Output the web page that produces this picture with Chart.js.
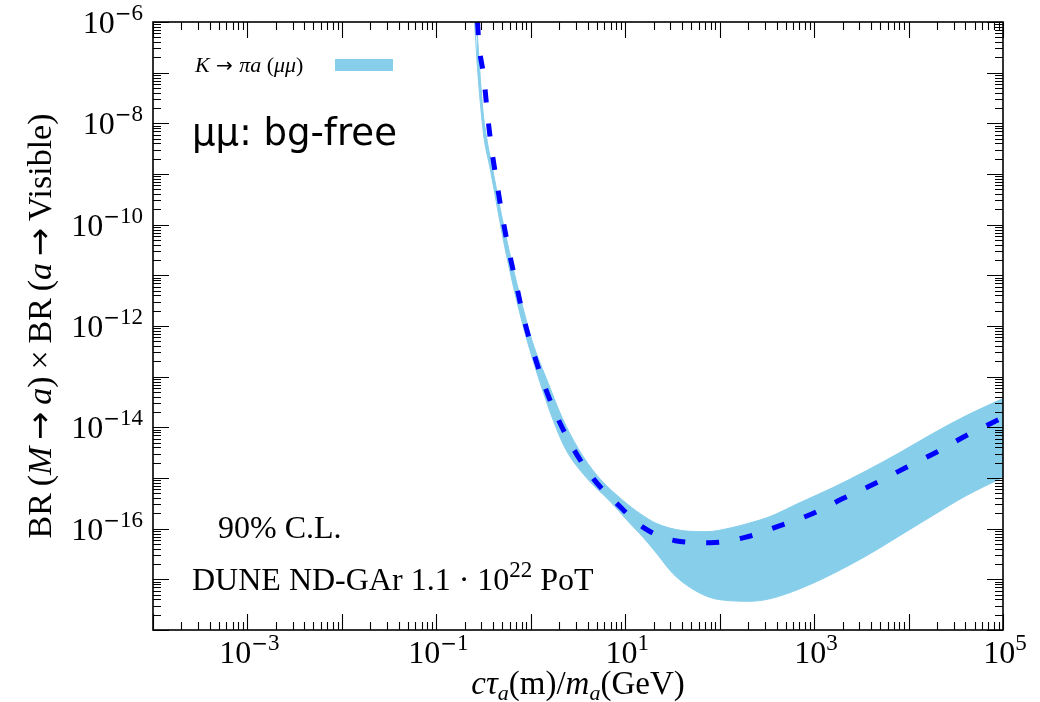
<!DOCTYPE html>
<html lang="en">
<head>
  <meta charset="UTF-8" />
  <title>DUNE ND-GAr mu-mu bg-free reach</title>
  <style>
    body {
      margin: 0;
      background: #ffffff;
    }
    #wrap {
      width: 1040px;
      height: 702px;
    }
  </style>
</head>
<body>
<div id="wrap">
  <canvas id="chart" width="1040" height="702"></canvas>
</div>

<script src="https://cdn.jsdelivr.net/npm/chart.js"></script>
<script>
// axis ranges
const xMin = 1e-4, xMax = 1e5;
const yMin = 1e-18, yMax = 1e-6;

// exponents that get a printed "10^n" label
const xLabelExps = [-3, -1, 1, 3, 5];
const yLabelExps = [-6, -8, -10, -12, -14, -16];

// K -> pi a (mu mu) band, upper edge
const bandUpperX = [0.266, 0.279, 0.297, 0.315, 0.340, 0.397, 0.471, 0.558, 0.671, 0.826, 1.03, 1.535, 2.14, 3.18, 5.06, 9.53, 14.4, 21.6, 41.0, 73.1, 129, 209, 341, 708, 1580, 3590, 8070, 1.80e4, 4.09e4, 1e5];
const bandUpperY = [1e-6, 2.8e-7, 5.19e-8, 1.45e-8, 5.33e-9, 1.19e-9, 2.24e-10, 4.92e-11, 1.10e-11, 2.33e-12, 5.19e-13, 7.34e-14, 1.58e-14, 3.81e-15, 1.11e-15, 3.57e-16, 1.98e-16, 1.26e-16, 9.12e-17, 8.73e-17, 1.03e-16, 1.30e-16, 1.73e-16, 3.27e-16, 6.46e-16, 1.40e-15, 3.18e-15, 7.54e-15, 1.71e-14, 3.71e-14];

// band, lower edge
const bandLowerX = [0.2535, 0.269, 0.2825, 0.3006, 0.319, 0.374, 0.441, 0.513, 0.608, 0.739, 0.914, 1.263, 1.68, 2.32, 3.87, 6.94, 10.8, 15.5, 21.6, 32.1, 48.6, 79.2, 129, 209, 341, 708, 1580, 3590, 8070, 1.80e4, 4.09e4, 1e5];
const bandLowerY = [1e-6, 1.77e-7, 5.19e-8, 1.45e-8, 5.33e-9, 1.19e-9, 2.24e-10, 4.92e-11, 1.10e-11, 2.33e-12, 5.19e-13, 7.34e-14, 1.58e-14, 3.81e-15, 1.02e-15, 3.42e-16, 1.37e-16, 6.73e-17, 3.21e-17, 1.29e-17, 6.92e-18, 4.39e-18, 3.78e-18, 3.69e-18, 4.14e-18, 6.52e-18, 1.29e-17, 2.92e-17, 7.28e-17, 1.81e-16, 4.49e-16, 1.03e-15];

// dashed central curve
const limitX = [0.273, 0.281, 0.318, 0.345, 0.380, 0.433, 0.498, 0.583, 0.700, 0.841, 1.065, 1.393, 1.91, 2.82, 4.59, 8.17, 15.5, 33.8, 79.2, 185, 414, 942, 2010, 4400, 9500, 1.97e4, 4.09e4, 1e5];
const limitY = [1e-6, 4.08e-7, 8.3e-8, 1.77e-8, 3.71e-9, 7.54e-10, 1.53e-10, 3.22e-11, 6.85e-12, 1.43e-12, 3.05e-13, 6.70e-14, 1.58e-14, 3.81e-15, 9.73e-16, 3.12e-16, 1.06e-16, 5.79e-17, 5.28e-17, 6.73e-17, 1.11e-16, 1.95e-16, 3.92e-16, 7.75e-16, 1.63e-15, 3.22e-15, 6.89e-15, 1.56e-14];

const SKY = '#87CEEB';
const SERIF = '"Liberation Serif", "DejaVu Serif", serif';
const SYM = '"DejaVu Sans", sans-serif'; // long arrow and minus, closer to TeX

function toPoints(xs, ys) {
  return xs.map((x, i) => ({ x: x, y: ys[i] }));
}

function fontOf(p) {
  return (p.italic ? 'italic ' : '') + p.size + 'px ' + (p.family || SERIF);
}

// a run of text pieces: {t, size, italic, dy, family}
function richWidth(ctx, pieces) {
  let w = 0;
  pieces.forEach(p => {
    ctx.font = fontOf(p);
    w += ctx.measureText(p.t).width;
  });
  return w;
}

function drawRich(ctx, pieces, x, y, align) {
  const w = richWidth(ctx, pieces);
  let cx = align === 'right' ? x - w : (align === 'center' ? x - w / 2 : x);
  ctx.textAlign = 'left';
  ctx.textBaseline = 'alphabetic';
  pieces.forEach(p => {
    ctx.font = fontOf(p);
    ctx.fillText(p.t, cx, y + (p.dy || 0));
    cx += ctx.measureText(p.t).width;
  });
}

function powerPieces(exp) {
  const out = [{ t: '10', size: 32 }];
  if (exp < 0) out.push({ t: '\u2212', size: 20, dy: -13, family: SYM });
  out.push({ t: String(Math.abs(exp)), size: 23, dy: -13 });
  return out;
}

const decorPlugin = {
  id: 'decor',
  afterDatasetsDraw(chart) {
    const ctx = chart.ctx;
    const a = chart.chartArea;
    const xs = chart.scales.x, ys = chart.scales.y;
    ctx.save();

    // inward ticks on all four sides
    ctx.strokeStyle = '#000';
    ctx.lineWidth = 1.1;
    ctx.beginPath();
    for (let e = -4; e <= 5; e++) {
      for (let m = 1; m < 10; m++) {
        const v = m * Math.pow(10, e);
        if (v > xMax * 1.0001) continue;
        const px = Math.round(xs.getPixelForValue(v)) + 0.5;
        const len = m === 1 ? 16 : 8;
        ctx.moveTo(px, a.bottom); ctx.lineTo(px, a.bottom - len);
        ctx.moveTo(px, a.top); ctx.lineTo(px, a.top + len);
      }
    }
    for (let e = -18; e <= -6; e++) {
      for (let m = 1; m < 10; m++) {
        const v = m * Math.pow(10, e);
        if (v > yMax * 1.0001) continue;
        const py = Math.round(ys.getPixelForValue(v)) + 0.5;
        const len = m === 1 ? 16 : 8;
        ctx.moveTo(a.left, py); ctx.lineTo(a.left + len, py);
        ctx.moveTo(a.right, py); ctx.lineTo(a.right - len, py);
      }
    }
    ctx.stroke();

    ctx.lineWidth = 1.6;
    ctx.strokeRect(a.left, a.top, a.right - a.left, a.bottom - a.top);

    // tick labels
    ctx.fillStyle = '#000';
    xLabelExps.forEach(e => {
      drawRich(ctx, powerPieces(e), xs.getPixelForValue(Math.pow(10, e)) + 2, a.bottom + 33, 'center');
    });
    yLabelExps.forEach(e => {
      drawRich(ctx, powerPieces(e), a.left - 10, ys.getPixelForValue(Math.pow(10, e)) + 11, 'right');
    });

    // x title
    drawRich(ctx, [
      { t: 'c\u03C4', size: 33, italic: true },
      { t: 'a', size: 22, italic: true, dy: 6 },
      { t: '(m)/', size: 33 },
      { t: 'm', size: 33, italic: true },
      { t: 'a', size: 22, italic: true, dy: 6 },
      { t: '(GeV)', size: 33 }
    ], (a.left + a.right) / 2, 694, 'center');

    // y title, rotated
    const ys0 = 30;
    let yPieces = [
      { t: 'BR\u2009(', size: ys0 },
      { t: 'M', size: ys0, italic: true },
      { t: '\u2009\u2192\u2009', size: ys0, family: SYM },
      { t: 'a', size: ys0, italic: true },
      { t: ')\u2009\u00D7\u2009BR\u2009(', size: ys0 },
      { t: 'a', size: ys0, italic: true },
      { t: '\u2009\u2192\u2009', size: ys0, family: SYM },
      { t: 'Visible)', size: ys0 }
    ];
    const wy = richWidth(ctx, yPieces);
    const ySize = Math.max(26, Math.min(34, ys0 * 435 / wy));
    yPieces = yPieces.map(p => Object.assign({}, p, { size: ySize }));
    ctx.save();
    ctx.translate(51, (a.top + a.bottom) / 2);
    ctx.rotate(-Math.PI / 2);
    drawRich(ctx, yPieces, 0, 0, 'center');
    ctx.restore();

    // legend
    drawRich(ctx, [
      { t: 'K', size: 22, italic: true },
      { t: ' \u2192 ', size: 20, family: SYM },
      { t: '\u03C0a', size: 22, italic: true },
      { t: ' (', size: 22 },
      { t: '\u03BC\u03BC', size: 22, italic: true },
      { t: ')', size: 22 }
    ], 195, 72, 'left');
    ctx.fillStyle = SKY;
    ctx.fillRect(335, 59, 58, 12);

    // annotations
    ctx.fillStyle = '#000';
    const tag = '\u03BC\u03BC: bg-free';
    const tagFamily = '"DejaVu Sans", sans-serif';
    ctx.font = '36px ' + tagFamily;
    const tagSize = 36 * 205 / ctx.measureText(tag).width;
    drawRich(ctx, [{ t: tag, size: tagSize, family: tagFamily }], 192, 145, 'left');

    drawRich(ctx, [{ t: '90% C.L.', size: 32 }], 218, 538, 'left');
    drawRich(ctx, [
      { t: 'DUNE ND-GAr 1.1 \u00B7 10', size: 32 },
      { t: '22', size: 23, dy: -13 },
      { t: ' PoT', size: 32 }
    ], 192, 590, 'left');

    ctx.restore();
  }
};

new Chart(document.getElementById('chart'), {
  type: 'line',
  data: {
    datasets: [
      {
        label: 'band upper',
        data: toPoints(bandUpperX, bandUpperY),
        borderColor: SKY,
        backgroundColor: SKY,
        borderWidth: 1,
        fill: '+1',
        pointRadius: 0,
        clip: 0,
        order: 2
      },
      {
        label: 'band lower',
        data: toPoints(bandLowerX, bandLowerY),
        borderColor: SKY,
        backgroundColor: SKY,
        borderWidth: 1,
        fill: false,
        pointRadius: 0,
        clip: 0,
        order: 2
      },
      {
        label: 'limit',
        data: toPoints(limitX, limitY),
        borderColor: '#0000ff',
        borderWidth: 5,
        borderDash: [13, 21],
        borderCapStyle: 'butt',
        fill: false,
        pointRadius: 0,
        clip: 0,
        order: 1
      }
    ]
  },
  options: {
    responsive: false,
    animation: false,
    devicePixelRatio: 1,
    layout: { padding: { left: 153, top: 22, right: 37, bottom: 72 } },
    elements: { line: { cubicInterpolationMode: 'monotone' } },
    scales: {
      x: { type: 'logarithmic', min: xMin, max: xMax, display: false },
      y: { type: 'logarithmic', min: yMin, max: yMax, display: false }
    },
    plugins: {
      legend: { display: false },
      tooltip: { enabled: false }
    }
  },
  plugins: [decorPlugin]
});
</script>
</body>
</html>
